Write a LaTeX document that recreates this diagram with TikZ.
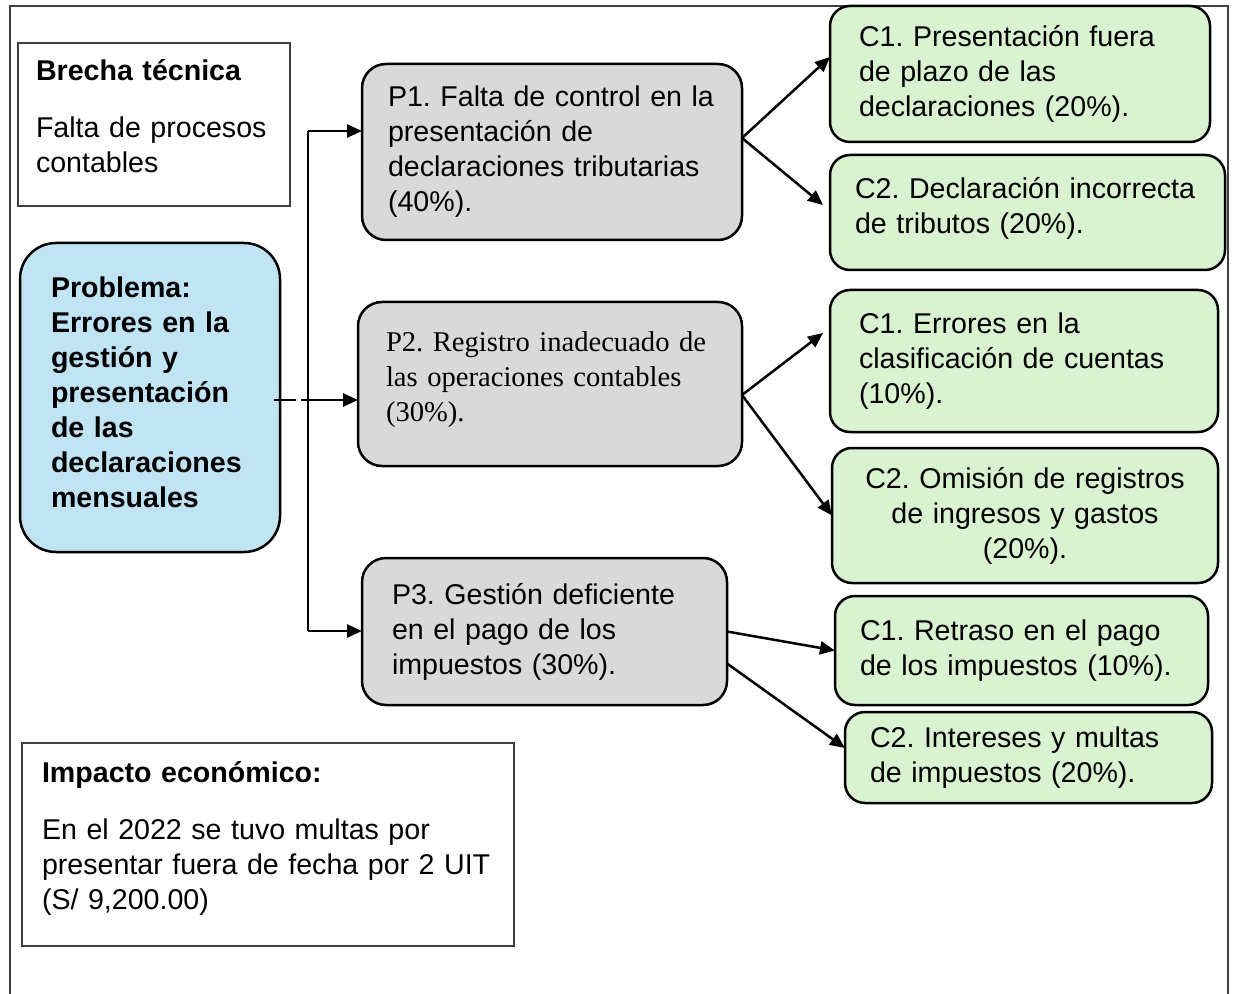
\documentclass[tikz,border=0pt]{standalone}
\usepackage{fontspec}
\setmainfont{Liberation Sans}
\newfontfamily\timesfont{Liberation Serif}
\usetikzlibrary{arrows.meta}
\frenchspacing

\definecolor{probblue}{HTML}{C1E4F5}
\definecolor{causegray}{HTML}{D9D9D9}
\definecolor{effgreen}{HTML}{D9F2D0}
\definecolor{framegray}{HTML}{404040}

\tikzset{
  txt/.style={font=\fontsize{14.3}{17.5}\selectfont, align=left,
    anchor=north west, inner ysep=0pt, outer sep=0pt},
  plain/.style={txt, draw=framegray, line width=1pt},
  rbox/.style={txt, draw=black, line width=1.25pt, rounded corners=10pt},
  cause/.style={rbox, fill=causegray, rounded corners=12pt},
  effect/.style={rbox, fill=effgreen},
  link/.style={line width=1.25pt, -{Triangle[length=7.5pt,width=6.5pt]}},
}

\begin{document}
\begin{tikzpicture}[x=0.5pt,y=-0.5pt]
\useasboundingbox (0,0) rectangle (1235,994);
% Frame
\draw[framegray, line width=0.6pt] (10,994) |- (1228,6) -- (1228,994);
% Left column
\node[plain, minimum width=136pt, minimum height=81.5pt, inner xsep=9pt, text width=118pt]
  (brecha) at (18,43) {\textbf{Brecha técnica}\\[11pt] Falta de procesos\\ contables\par\kern8pt};
\node[rbox, fill=probblue, rounded corners=18pt, minimum width=130pt, minimum height=154.5pt,
  inner xsep=15.5pt, text width=99pt]
  (prob) at (20,243) {\bfseries Problema:\\ Errores en la\\ gestión y\\ presentación\\ de las\\ declaraciones\\ mensuales\par\kern5pt};
\node[plain, minimum width=246pt, minimum height=101.5pt, inner xsep=10pt, text width=226pt]
  (imp) at (22,743) {\textbf{Impacto económico:}\\[11pt] En el 2022 se tuvo multas por\\ presentar fuera de fecha por 2 UIT\\ (S/ 9,200.00)\par\kern6pt};
% Causes
\node[cause, minimum width=190pt, minimum height=88pt, inner xsep=13pt, text width=164pt]
  (p1) at (362,64) {P1. Falta de control en la\\ presentación de\\ declaraciones tributarias\\ (40\%).};
\node[cause, font=\timesfont\fontsize{14.3}{17.5}\selectfont, minimum width=192pt, minimum height=82pt,
  inner xsep=14pt, text width=164pt]
  (p2) at (358,302) {P2. Registro inadecuado de\\ las operaciones contables\\ (30\%).\par\kern4pt};
\node[cause, minimum width=182.5pt, minimum height=73.5pt, inner xsep=15pt, text width=152.5pt]
  (p3) at (362,558) {P3. Gestión deficiente\\ en el pago de los\\ impuestos (30\%).};
% Effects
\node[effect, minimum width=190pt, minimum height=68pt, inner xsep=14.5pt, text width=161pt]
  (c11) at (830,6) {C1. Presentación fuera\\ de plazo de las\\ declaraciones (20\%).};
\node[effect, minimum width=197.5pt, minimum height=57.5pt, inner xsep=12.5pt, text width=172.5pt]
  (c12) at (830,155) {C2. Declaración incorrecta\\ de tributos\ (20\%).\par\kern4pt};
\node[effect, minimum width=194pt, minimum height=71pt, inner xsep=14.5pt, text width=165pt]
  (c21) at (830,290) {C1. Errores en la\\ clasificación de cuentas\\ (10\%).};
\node[effect, align=center, minimum width=193pt, minimum height=67.5pt, inner xsep=10pt, text width=173pt]
  (c22) at (832,448) {C2. Omisión de registros\\ de ingresos y gastos\\ (20\%).};
\node[effect, minimum width=186.5pt, minimum height=54.5pt, inner xsep=12.5pt, text width=161.5pt]
  (c31) at (835,596) {C1. Retraso en el pago\\ de los impuestos (10\%).};
\node[effect, minimum width=183.5pt, minimum height=45.5pt, inner xsep=12.5pt, text width=158.5pt]
  (c32) at (845,712) {C2. Intereses y multas\\ de impuestos (20\%).};
% Trunk
\coordinate (t1) at (308,131);
\coordinate (t2) at (308,400);
\coordinate (t3) at (308,631);
\draw[line width=1.25pt] (t1) -- (t3);
\draw[line width=1.25pt, dash pattern=on 11pt off 2.5pt] ([xshift=-3pt]t2 -| prob.east) -- (t2);
\draw[link] (t1) -- (t1 -| p1.west);
\draw[link] (t2) -- (t2 -| p2.west);
\draw[link] (t3) -- (t3 -| p3.west);
% Arrows to effects
\draw[link] ([yshift=7pt]p1.east) -- ([yshift=8.5pt]c11.west);
\draw[link] ([yshift=7pt]p1.east) -- ([xshift=-3.5pt,yshift=3.75pt]c12.west);
\draw[link] ([yshift=-5.5pt]p2.east) -- ([xshift=-3.5pt,yshift=14pt]c21.west);
\draw[link] ([yshift=-5.5pt]p2.east) -- (c22.west);
\draw[link] (p3.east) -- (c31.west);
\draw[link] ([yshift=-16pt]p3.east) -- ([yshift=4.75pt]c32.west);
\end{tikzpicture}
\end{document}
